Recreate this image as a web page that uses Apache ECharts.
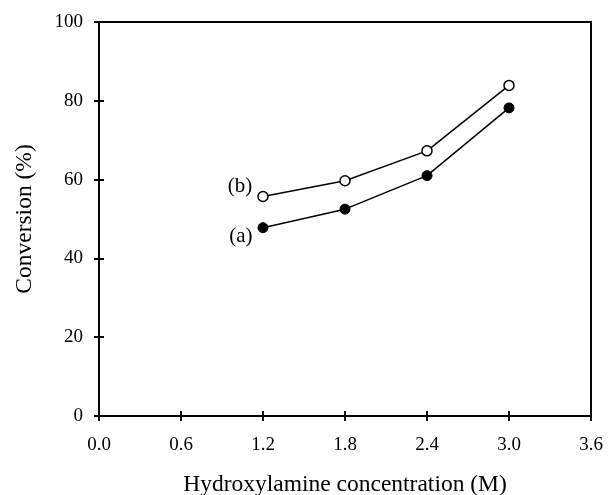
<!DOCTYPE html>
<html>
<head>
<meta charset="utf-8">
<script src="https://cdn.jsdelivr.net/npm/echarts@6/dist/echarts.min.js"></script>
<style>
  html, body { margin: 0; padding: 0; background: #fff; }
  #chart { width: 616px; height: 495px; }
</style>
</head>
<body>
<div id="chart"></div>
<script>
// data
var concentration = [1.2, 1.8, 2.4, 3.0];
var seriesA = [47.8, 52.5, 61.0, 78.2];
var seriesB = [55.7, 59.7, 67.3, 83.9];
var seriesNames = ['(a)', '(b)'];
var xTicks = { min: 0, max: 3.6, interval: 0.6 };
var yTicks = { min: 0, max: 100, interval: 20 };

var font = 'Liberation Serif';

function pairs(ys, label) {
    return concentration.map(function (x, i) {
        var item = { value: [x, ys[i]] };
        if (i === 0) {
            item.label = { show: true, formatter: label, position: 'left',
                           offset: label === '(b)' ? [0, -10] : [0, 9] };
        }
        return item;
    });
}

var chart = echarts.init(document.getElementById('chart'));
var gridPos = { left: 99, top: 22, width: 492, height: 394, containLabel: false, outerBoundsMode: 'none' };
var tickStyle = { length: 5, lineStyle: { color: '#000', width: 2 } };

var option = {
    animation: false,
    grid: [
        Object.assign({ show: true, borderColor: '#000', borderWidth: 2 }, gridPos),
        Object.assign({}, gridPos)   // second grid only for the outer half of the ticks
    ],
    xAxis: [
        {
            type: 'value', gridIndex: 0, min: xTicks.min, max: xTicks.max, interval: xTicks.interval,
            name: 'Hydroxylamine concentration (M)', nameLocation: 'middle', nameGap: 57,
            nameTextStyle: { fontFamily: font, fontSize: 23.5, color: '#000' },
            axisLine: { lineStyle: { color: '#000', width: 2 } },
            axisTick: Object.assign({ inside: true }, tickStyle),
            axisLabel: { fontFamily: font, fontSize: 19, color: '#000', margin: 20,
                         formatter: function (v) { return v.toFixed(1); } },
            splitLine: { show: false }
        },
        {
            type: 'value', gridIndex: 1, min: xTicks.min, max: xTicks.max, interval: xTicks.interval,
            axisLine: { show: false },
            axisTick: Object.assign({ inside: false }, tickStyle),
            axisLabel: { show: false },
            splitLine: { show: false }
        }
    ],
    yAxis: [
        {
            type: 'value', gridIndex: 0, min: yTicks.min, max: yTicks.max, interval: yTicks.interval,
            name: 'Conversion (%)', nameLocation: 'middle', nameGap: 62,
            nameTextStyle: { fontFamily: font, fontSize: 23.5, color: '#000' },
            axisLine: { lineStyle: { color: '#000', width: 2 } },
            axisTick: Object.assign({ inside: true }, tickStyle),
            axisLabel: { fontFamily: font, fontSize: 19, color: '#000', margin: 16 },
            splitLine: { show: false }
        },
        {
            type: 'value', gridIndex: 1, min: yTicks.min, max: yTicks.max, interval: yTicks.interval,
            axisLine: { show: false },
            axisTick: Object.assign({ inside: false }, tickStyle),
            axisLabel: { show: false },
            splitLine: { show: false }
        }
    ],
    series: [
        {
            name: seriesNames[0], type: 'line', data: pairs(seriesA, seriesNames[0]),
            symbol: 'circle', symbolSize: 10,
            itemStyle: { color: '#000', borderColor: '#000', borderWidth: 1 },
            lineStyle: { color: '#000', width: 1.5 },
            label: { fontFamily: font, fontSize: 21, color: '#000' }
        },
        {
            name: seriesNames[1], type: 'line', data: pairs(seriesB, seriesNames[1]),
            symbol: 'circle', symbolSize: 10,
            itemStyle: { color: '#fff', borderColor: '#000', borderWidth: 1.5 },
            lineStyle: { color: '#000', width: 1.5 },
            label: { fontFamily: font, fontSize: 21, color: '#000' }
        }
    ]
};
chart.setOption(option);
</script>
</body>
</html>
